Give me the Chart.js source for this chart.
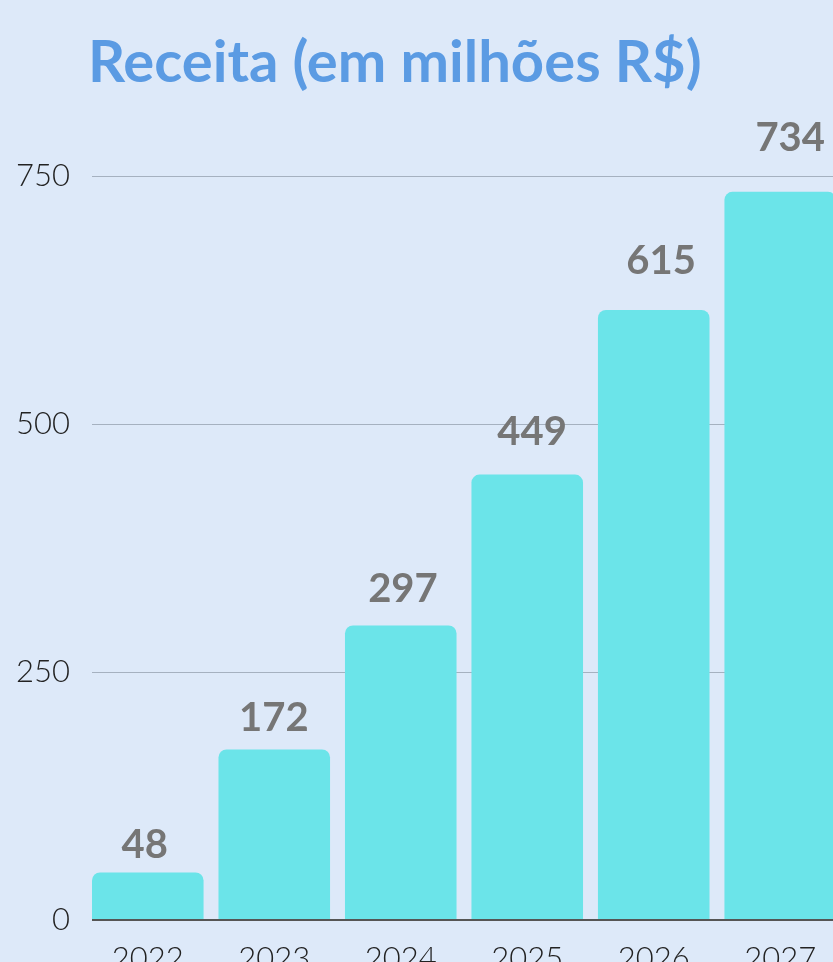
<!DOCTYPE html>
<html>
<head>
<meta charset="utf-8">
<script src="https://cdn.jsdelivr.net/npm/chart.js@4.4.1/dist/chart.umd.min.js"></script>
<style>
  html, body { margin: 0; padding: 0; background: #dde9f9; overflow: hidden; width: 833px; height: 962px; }
  #title {
    position: absolute; left: 88px; top: 31px; margin: 0;
    font-family: Lato, sans-serif; font-weight: 700; font-size: 58px; line-height: 1;
    color: #5b9be3; white-space: nowrap;
  }
  #wrap { position: absolute; left: 0; top: 0; width: 836px; height: 1000px; }
</style>
</head>
<body>
<h1 id="title">Receita (em milhões R$)</h1>
<div id="wrap"><canvas id="revenueChart"></canvas></div>
<script>
const years = ["2022", "2023", "2024", "2025", "2026", "2027"];
const revenue = [48, 172, 297, 449, 615, 734];
const yTicks = [0, 250, 500, 750];

// value labels above each bar (slightly drifting right, like the original)
const valueLabels = {
  id: "valueLabels",
  afterDatasetsDraw(chart) {
    const ctx = chart.ctx;
    const y = chart.scales.y;
    ctx.save();
    ctx.font = "700 40px Lato, sans-serif";
    ctx.fillStyle = "#767676";
    ctx.textAlign = "center";
    ctx.textBaseline = "alphabetic";
    chart.getDatasetMeta(0).data.forEach((bar, i) => {
      const v = revenue[i];
      ctx.fillText(String(v), bar.x - 3 + i * 2.6, y.getPixelForValue(v * 1.04) - 12);
    });
    ctx.restore();
  }
};

new Chart(document.getElementById("revenueChart"), {
  type: "bar",
  data: {
    datasets: [{
      data: revenue.map((v, i) => ({ x: i, y: v })),
      backgroundColor: "#6be4e9",
      borderRadius: 8,
      borderSkipped: "bottom",
      categoryPercentage: 1,
      barPercentage: 0.882
    }]
  },
  options: {
    responsive: true,
    maintainAspectRatio: false,
    animation: false,
    layout: { padding: { top: 176, right: 0, left: 0, bottom: 0 } },
    plugins: { legend: { display: false }, tooltip: { enabled: false } },
    scales: {
      x: {
        type: "linear",
        offset: false,
        min: -0.441,
        max: years.length - 1 + 0.441,
        afterFit: (s) => { s.height = 80; },
        afterBuildTicks: (s) => { s.ticks = years.map((_, i) => ({ value: i })); },
        grid: { display: false, offset: false },
        border: { display: false },
        ticks: {
          autoSkip: false,
          maxRotation: 0,
          padding: 12,
          color: "#222",
          font: { family: "Lato, sans-serif", size: 31, weight: 300 },
          callback: (v) => years[v] || ""
        }
      },
      y: {
        min: 0,
        max: 750,
        afterFit: (s) => { s.width = 92; },
        afterBuildTicks: (s) => { s.ticks = yTicks.map(v => ({ value: v })); },
        border: { display: false },
        grid: {
          drawTicks: false,
          color: (c) => c.tick && c.tick.value === 0 ? "#555" : "#a5b1c0",
          lineWidth: (c) => c.tick && c.tick.value === 0 ? 2 : 1
        },
        ticks: {
          padding: 22,
          color: "#222",
          font: { family: "Lato, sans-serif", size: 31, weight: 300 }
        }
      }
    }
  },
  plugins: [valueLabels]
});
</script>
</body>
</html>
